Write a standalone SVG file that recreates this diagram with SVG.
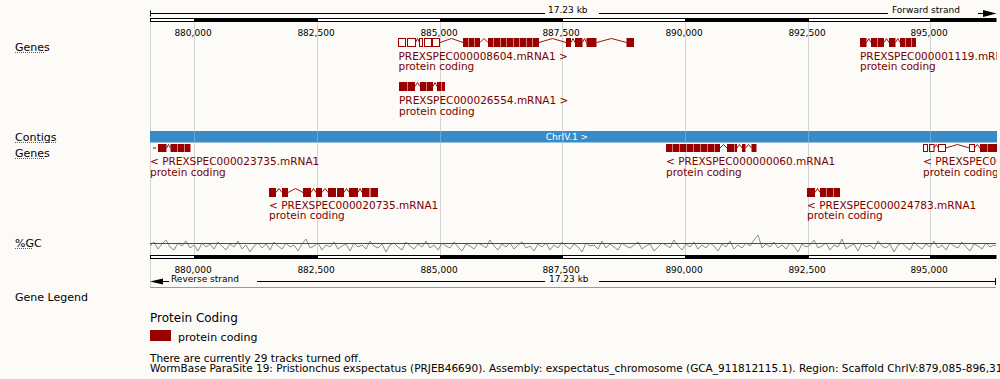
<svg xmlns="http://www.w3.org/2000/svg" width="1000" height="379" viewBox="0 0 1000 379">
<defs>
<style>
text{font-family:"DejaVu Sans","Liberation Sans",sans-serif}
.rt{font-size:9px;fill:#000}
.tl{font-size:11px;fill:#000}
.gl{font-size:10.5px;fill:#7a0000}
.grid{stroke:#d3d3d3;stroke-width:1}
.ul{stroke:#3366cc;stroke-width:1;stroke-dasharray:1 1}
.ex{fill:#990000}
.utr{fill:none;stroke:#990000;stroke-width:1}
.in{fill:none;stroke:#a01010;stroke-width:1}
.bk{fill:#000}
.wh{fill:#fff;stroke:#000;stroke-width:1}
</style>
<clipPath id="clip"><rect x="150" y="0" width="847" height="379"/></clipPath>
</defs>
<rect width="1000" height="379" fill="#fcfbf7"/>

<!-- grid -->
<g id="grid">
<line class="grid" x1="150.5" y1="22" x2="150.5" y2="287"/>
<line class="grid" x1="194.5" y1="22" x2="194.5" y2="255"/>
<line class="grid" x1="317.5" y1="22" x2="317.5" y2="255"/>
<line class="grid" x1="440.5" y1="22" x2="440.5" y2="255"/>
<line class="grid" x1="562.5" y1="22" x2="562.5" y2="255"/>
<line class="grid" x1="685.5" y1="22" x2="685.5" y2="255"/>
<line class="grid" x1="808.5" y1="22" x2="808.5" y2="255"/>
<line class="grid" x1="930.5" y1="22" x2="930.5" y2="255"/>
</g>

<!-- track labels -->
<g id="labels">
<text class="tl" x="15" y="51">Genes</text>
<line class="ul" x1="15" y1="52.5" x2="44" y2="52.5"/>
<text class="tl" x="15" y="141">Contigs</text>
<line class="ul" x1="15" y1="142.5" x2="57" y2="142.5"/>
<text class="tl" x="15" y="157">Genes</text>
<line class="ul" x1="15" y1="158.5" x2="44" y2="158.5"/>
<text class="tl" x="15" y="247">%GC</text>
<line class="ul" x1="15" y1="248.5" x2="33" y2="248.5"/>
<text class="tl" x="15" y="301">Gene Legend</text>
</g>

<!-- top ruler -->
<g id="top-ruler">
<line x1="150.5" y1="10.5" x2="150.5" y2="16.5" stroke="#000"/>
<line x1="150" y1="13.5" x2="545" y2="13.5" stroke="#000"/>
<line x1="599" y1="13.5" x2="888" y2="13.5" stroke="#000"/>
<text class="rt" x="548" y="13">17.23 kb</text>
<text class="rt" x="892" y="13">Forward strand</text>
<line x1="978" y1="13.5" x2="985" y2="13.5" stroke="#000"/>
<polygon points="983,10 996.5,13.5 983,17" fill="#000"/>
<rect class="wh" x="150.5" y="18.5" width="44" height="3"/>
<rect class="bk" x="194" y="18" width="123.5" height="4"/>
<rect class="wh" x="317.5" y="18.5" width="123" height="3"/>
<rect class="bk" x="440" y="18" width="122.5" height="4"/>
<rect class="wh" x="562.5" y="18.5" width="123" height="3"/>
<rect class="bk" x="685" y="18" width="123.5" height="4"/>
<rect class="wh" x="808.5" y="18.5" width="122" height="3"/>
<rect class="bk" x="930" y="18" width="66.5" height="4"/>
<g text-anchor="middle">
<text class="rt" x="193" y="36">880,000</text>
<text class="rt" x="316" y="36">882,500</text>
<text class="rt" x="439" y="36">885,000</text>
<text class="rt" x="561" y="36">887,500</text>
<text class="rt" x="684" y="36">890,000</text>
<text class="rt" x="807" y="36">892,500</text>
<text class="rt" x="929" y="36">895,000</text>
</g>
</g>

<g clip-path="url(#clip)">
<!-- forward gene 1 -->
<g id="gene-8604">
<rect class="utr" x="398.5" y="38.5" width="7" height="8"/>
<rect class="utr" x="407.5" y="38.5" width="8" height="8"/>
<polyline class="in" points="415.5,42.5 417.5,38.5 419.5,42.5"/>
<rect class="utr" x="419.5" y="38.5" width="3" height="8"/>
<rect class="utr" x="424.5" y="38.5" width="7" height="8"/>
<rect class="utr" x="432.5" y="38.5" width="7" height="8"/>
<polyline class="in" points="440,42.5 451.5,38.5 463,42.5"/>
<rect class="ex" x="463" y="38" width="5.5" height="9"/>
<rect class="ex" x="469" y="38" width="5.5" height="9"/>
<rect class="ex" x="475" y="38" width="5" height="9"/>
<polyline class="in" points="480,42.5 484,38.5 488,42.5"/>
<rect class="ex" x="488" y="38" width="5.5" height="9"/>
<rect class="ex" x="494" y="38" width="6" height="9"/>
<rect class="ex" x="500.5" y="38" width="6" height="9"/>
<rect class="ex" x="507" y="38" width="6" height="9"/>
<rect class="ex" x="513.5" y="38" width="6" height="9"/>
<rect class="ex" x="520" y="38" width="6" height="9"/>
<rect class="ex" x="526.5" y="38" width="5.5" height="9"/>
<rect class="ex" x="532.5" y="38" width="6.5" height="9"/>
<polyline class="in" points="539,42.5 552.5,38.5 566,42.5"/>
<rect class="ex" x="566" y="38" width="5" height="9"/>
<polyline class="in" points="571,42.5 573,38.5 575,42.5"/>
<rect class="ex" x="575" y="38" width="7.5" height="9"/>
<polyline class="in" points="582.5,42.5 584.5,38.5 586.5,42.5"/>
<rect class="ex" x="586.5" y="38" width="10" height="9"/>
<polyline class="in" points="596.5,42.5 611.5,38.5 626.5,42.5"/>
<rect class="ex" x="626.5" y="38" width="7.5" height="9"/>
<text class="gl" x="398.5" y="59.5">PREXSPEC000008604.mRNA1 &gt;</text>
<text class="gl" x="398.5" y="70">protein coding</text>
</g>

<g id="gene-26554">
<rect class="ex" x="399" y="82" width="8" height="9"/>
<rect class="ex" x="407.5" y="82" width="7.5" height="9"/>
<polyline class="in" points="415,86.5 417.5,82.5 420,86.5"/>
<rect class="ex" x="420" y="82" width="6" height="9"/>
<rect class="ex" x="426.5" y="82" width="6.5" height="9"/>
<polyline class="in" points="433,86.5 435,82.5 437,86.5"/>
<rect class="ex" x="437" y="82" width="4" height="9"/>
<rect class="ex" x="441.5" y="82" width="3.5" height="9"/>
<text class="gl" x="399" y="104">PREXSPEC000026554.mRNA1 &gt;</text>
<text class="gl" x="399" y="114.5">protein coding</text>
</g>

<g id="gene-1119">
<rect class="ex" x="860" y="38" width="6.5" height="9"/>
<polyline class="in" points="866.5,42.5 868.75,38.5 871,42.5"/>
<rect class="ex" x="871" y="38" width="6.5" height="9"/>
<rect class="ex" x="878" y="38" width="6" height="9"/>
<polyline class="in" points="884,42.5 886.5,38.5 889,42.5"/>
<rect class="ex" x="889" y="38" width="6.5" height="9"/>
<polyline class="in" points="895.5,42.5 897.75,38.5 900,42.5"/>
<rect class="ex" x="900" y="38" width="5.5" height="9"/>
<rect class="ex" x="906" y="38" width="5" height="9"/>
<rect class="ex" x="911.5" y="38" width="4.5" height="9"/>
<text class="gl" x="860" y="59.5">PREXSPEC000001119.mRNA1 &gt;</text>
<text class="gl" x="860" y="70">protein coding</text>
</g>
</g>

<!-- contig -->
<g id="contig">
<rect x="150" y="131" width="847" height="11.5" fill="#398bc8"/>
<g stroke="#fff" stroke-opacity="0.25">
<line x1="194.5" y1="131" x2="194.5" y2="142.5"/>
<line x1="317.5" y1="131" x2="317.5" y2="142.5"/>
<line x1="440.5" y1="131" x2="440.5" y2="142.5"/>
<line x1="562.5" y1="131" x2="562.5" y2="142.5"/>
<line x1="685.5" y1="131" x2="685.5" y2="142.5"/>
<line x1="808.5" y1="131" x2="808.5" y2="142.5"/>
<line x1="930.5" y1="131" x2="930.5" y2="142.5"/>
</g>
<text x="567" y="140" text-anchor="middle" font-size="9" fill="#fff">ChrIV.1 &gt;</text>
</g>

<g clip-path="url(#clip)">
<g id="gene-23735">
<line x1="153" y1="148" x2="156" y2="148" stroke="#990000"/>
<rect class="ex" x="158" y="144" width="8.5" height="8"/>
<polyline class="in" points="166.5,148 168.5,144.5 170.5,148"/>
<rect class="ex" x="170.5" y="144" width="6.5" height="8"/>
<rect class="ex" x="177.5" y="144" width="6.5" height="8"/>
<rect class="ex" x="184.5" y="144" width="6" height="8"/>
<text class="gl" x="150" y="165">&lt; PREXSPEC000023735.mRNA1</text>
<text class="gl" x="150" y="175.5">protein coding</text>
</g>

<g id="gene-20735">
<rect class="ex" x="269" y="188" width="7" height="9"/>
<polyline class="in" points="276,192.5 279,188.5 282,192.5"/>
<rect class="ex" x="282" y="188" width="6" height="9"/>
<polyline class="in" points="288,192.5 295.5,188.5 303,192.5"/>
<rect class="ex" x="303" y="188" width="8" height="9"/>
<polyline class="in" points="311,192.5 313.5,188.5 316,192.5"/>
<rect class="ex" x="316" y="188" width="6" height="9"/>
<polyline class="in" points="322,192.5 325,188.5 328,192.5"/>
<rect class="ex" x="328" y="188" width="8" height="9"/>
<rect class="ex" x="337" y="188" width="7" height="9"/>
<polyline class="in" points="344,192.5 346.5,188.5 349,192.5"/>
<rect class="ex" x="349" y="188" width="9" height="9"/>
<polyline class="in" points="358,192.5 360,188.5 362,192.5"/>
<rect class="ex" x="362" y="188" width="7.5" height="9"/>
<rect class="ex" x="370.5" y="188" width="7.5" height="9"/>
<text class="gl" x="269" y="208.5">&lt; PREXSPEC000020735.mRNA1</text>
<text class="gl" x="269" y="219">protein coding</text>
</g>

<g id="gene-0060">
<rect class="ex" x="666" y="144" width="6" height="8"/>
<rect class="ex" x="672.5" y="144" width="6.5" height="8"/>
<rect class="ex" x="679.5" y="144" width="6.5" height="8"/>
<rect class="ex" x="686.5" y="144" width="6.5" height="8"/>
<rect class="ex" x="693.5" y="144" width="6.5" height="8"/>
<rect class="ex" x="700.5" y="144" width="6.5" height="8"/>
<rect class="ex" x="707.5" y="144" width="6.5" height="8"/>
<rect class="ex" x="714.5" y="144" width="5.5" height="8"/>
<polyline class="in" points="720,148 723.5,144.5 727,148"/>
<rect class="ex" x="727" y="144" width="7" height="8"/>
<rect class="ex" x="734.5" y="144" width="2.5" height="8"/>
<polyline class="in" points="737,148 739.5,144.5 742,148"/>
<rect class="ex" x="742" y="144" width="3.5" height="8"/>
<polyline class="in" points="745.5,148 748.5,144.5 751.5,148"/>
<rect class="ex" x="751.5" y="144" width="5" height="8"/>
<text class="gl" x="666" y="165">&lt; PREXSPEC000000060.mRNA1</text>
<text class="gl" x="666" y="175.5">protein coding</text>
</g>

<g id="gene-24783">
<rect class="ex" x="807" y="188" width="8" height="9"/>
<polyline class="in" points="815,192.5 817.5,188.5 820,192.5"/>
<rect class="ex" x="820" y="188" width="6.5" height="9"/>
<rect class="ex" x="827" y="188" width="6" height="9"/>
<rect class="ex" x="833.5" y="188" width="6.5" height="9"/>
<text class="gl" x="807" y="208.5">&lt; PREXSPEC000024783.mRNA1</text>
<text class="gl" x="807" y="219">protein coding</text>
</g>

<g id="gene-cut">
<rect class="utr" x="923.5" y="144.5" width="4" height="7"/>
<rect class="utr" x="929.5" y="144.5" width="4.5" height="7"/>
<polyline class="in" points="934,148 936.25,144.5 938.5,148"/>
<rect class="utr" x="938.5" y="144.5" width="7" height="7"/>
<polyline class="in" points="945.5,148 957.5,144.5 969.5,148"/>
<rect class="utr" x="969.5" y="144.5" width="5" height="7"/>
<polyline class="in" points="974.5,148 977.25,144.5 980,148"/>
<rect class="ex" x="980" y="144" width="7" height="8"/>
<rect class="ex" x="987.5" y="144" width="9.5" height="8"/>
<text class="gl" x="923" y="165">&lt; PREXSPEC000012345.mRNA1</text>
<text class="gl" x="923" y="175.5">protein coding</text>
</g>
</g>

<!-- GC -->
<g id="gc">
<polyline fill="none" stroke="#8c8c8c" stroke-width="1" points="150,246 154,242 158,249 162,244 166,240 170,247 174,250 178,243 182,246 186,241 190,248 194,245 198,251 202,243 206,247 210,244 214,249 218,242 222,246 226,250 230,244 234,247 238,241 242,249 246,245 250,252 254,246 258,243 262,248 266,244 270,250 274,242 278,246 282,249 286,243 290,247 294,245 298,251 302,244 306,239 310,248 314,246 318,243 322,250 326,245 330,247 334,242 338,249 342,246 346,244 350,251 354,243 358,247 362,245 366,249 370,241 374,246 378,248 382,244 386,252 390,245 394,243 398,247 402,250 406,242 410,246 414,249 418,244 422,247 426,241 430,248 434,245 438,250 442,243 446,246 450,248 454,242 458,247 462,251 466,244 470,246 474,249 478,243 482,245 486,248 490,240 494,246 498,250 502,244 506,247 510,243 514,249 518,245 522,242 526,248 530,246 534,251 538,244 542,247 546,243 550,250 554,245 558,248 562,242 566,246 570,249 574,244 578,247 582,252 586,243 590,246 594,245 598,249 602,241 606,248 610,244 614,247 618,250 622,243 626,246 630,248 634,245 638,242 642,249 646,246 650,244 654,251 658,247 662,243 666,245 670,248 674,240 678,246 682,250 686,244 690,247 694,242 698,249 702,245 706,248 710,243 714,246 718,251 722,244 726,247 730,241 734,249 738,245 742,248 746,243 750,246 754,240 758,235 762,248 766,244 770,247 774,242 778,248 782,245 786,249 790,243 794,246 798,252 802,244 806,247 810,245 814,240 818,248 822,246 826,243 830,250 834,245 838,247 842,239 846,249 850,246 854,244 858,251 862,243 866,247 870,245 874,249 878,241 882,246 886,248 890,244 894,252 898,245 902,243 906,247 910,250 914,242 918,246 922,249 926,244 930,247 934,241 938,248 942,245 946,250 950,243 954,246 958,248 962,242 966,247 970,251 974,244 978,246 982,249 986,243 990,247 994,245 996,246"/>
<line x1="150" y1="243.5" x2="996" y2="243.5" stroke="#ff0000" stroke-width="1"/>
</g>

<!-- bottom ruler -->
<g id="bottom-ruler">
<rect class="wh" x="150.5" y="255.5" width="44" height="3"/>
<rect class="bk" x="194" y="255" width="123.5" height="4"/>
<rect class="wh" x="317.5" y="255.5" width="123" height="3"/>
<rect class="bk" x="440" y="255" width="122.5" height="4"/>
<rect class="wh" x="562.5" y="255.5" width="123" height="3"/>
<rect class="bk" x="685" y="255" width="123.5" height="4"/>
<rect class="wh" x="808.5" y="255.5" width="122" height="3"/>
<rect class="bk" x="930" y="255" width="66.5" height="4"/>
<g text-anchor="middle">
<text class="rt" x="193" y="272.5">880,000</text>
<text class="rt" x="316" y="272.5">882,500</text>
<text class="rt" x="439" y="272.5">885,000</text>
<text class="rt" x="561" y="272.5">887,500</text>
<text class="rt" x="684" y="272.5">890,000</text>
<text class="rt" x="807" y="272.5">892,500</text>
<text class="rt" x="929" y="272.5">895,000</text>
</g>
<polygon points="150,281.5 163,278.5 163,284.5" fill="#000"/>
<line x1="160" y1="281.5" x2="169" y2="281.5" stroke="#000"/>
<text class="rt" x="171" y="282">Reverse strand</text>
<line x1="257" y1="281.5" x2="545" y2="281.5" stroke="#000"/>
<text class="rt" x="549" y="282">17.23 kb</text>
<line x1="599" y1="281.5" x2="996" y2="281.5" stroke="#000"/>
<line x1="995.5" y1="278" x2="995.5" y2="285" stroke="#000"/>
<line x1="150" y1="287.5" x2="996" y2="287.5" stroke="#999"/>
</g>

<!-- legend -->
<g id="legend">
<text x="150" y="322" font-size="12" fill="#000">Protein Coding</text>
<rect x="150" y="330" width="21" height="11" fill="#990000"/>
<text x="178" y="341" font-size="11" fill="#000">protein coding</text>
<text x="150" y="361.5" font-size="10.5" fill="#000">There are currently 29 tracks turned off.</text>
<text x="150" y="371.5" font-size="10.5" fill="#000">WormBase ParaSite 19: Pristionchus exspectatus (PRJEB46690). Assembly: exspectatus_chromosome (GCA_911812115.1). Region: Scaffold ChrIV:879,085-896,313</text>
</g>
</svg>
